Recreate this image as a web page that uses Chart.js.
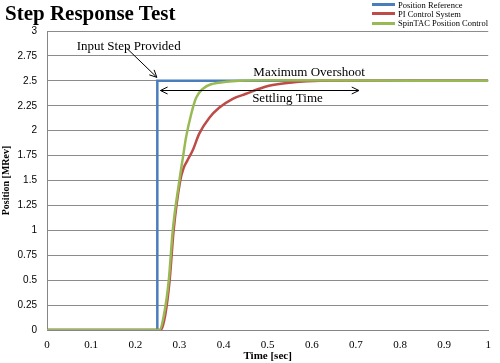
<!DOCTYPE html>
<html>
<head>
<meta charset="utf-8">
<script src="https://cdn.jsdelivr.net/npm/chart.js@4/dist/chart.umd.min.js"></script>
<style>
  html, body { margin:0; padding:0; background:#fff; }
  #wrap { position:relative; width:500px; height:363px; }
  #titulo { position:absolute; left:5px; top:1px; font-family:'Liberation Serif',serif; font-weight:bold; font-size:21px; color:#000; }
  #leyenda { position:absolute; left:372px; top:0px; font-family:'Liberation Serif',serif; font-size:8.5px; color:#000; }
  .ley-row { display:flex; align-items:center; height:9.3px; }
  .ley-line { width:23px; height:3px; margin-right:3px; }
</style>
</head>
<body>
<div id="wrap">
  <canvas id="chart" width="500" height="363"></canvas>
  <div id="titulo">Step Response Test</div>
  <div id="leyenda"></div>
</div>
<script>
/* ── DATOS ── */
const SERIES   = ['Position Reference', 'PI Control System', 'SpinTAC Position Control'];
const COLORES  = ['#4a7ebb', '#be4b48', '#98b954'];

const REF_T    = [0, 0.25, 0.25, 1];
const REF_POS  = [0, 0, 2.5, 2.5];

const PI_T     = [0, 0.258, 0.268, 0.278, 0.287, 0.302, 0.31, 0.318, 0.33, 0.345, 0.368, 0.39, 0.421, 0.451, 0.481, 0.503, 0.55, 0.62, 1];
const PI_POS   = [0, 0, 0.15, 0.5, 1.0, 1.5, 1.63, 1.7, 1.8, 1.97, 2.13, 2.23, 2.32, 2.37, 2.42, 2.45, 2.48, 2.5, 2.5];

const SP_T     = [0, 0.255, 0.265, 0.276, 0.285, 0.3, 0.308, 0.315, 0.327, 0.338, 0.353, 0.375, 0.406, 0.436, 0.5, 1];
const SP_POS   = [0, 0, 0.15, 0.5, 1.0, 1.5, 1.73, 1.93, 2.17, 2.33, 2.42, 2.47, 2.49, 2.5, 2.505, 2.5];

const X_TICKS  = [0, 0.1, 0.2, 0.3, 0.4, 0.5, 0.6, 0.7, 0.8, 0.9, 1];
const Y_TICKS  = [0, 0.25, 0.5, 0.75, 1, 1.25, 1.5, 1.75, 2, 2.25, 2.5, 2.75, 3];

const toPts = (xs, ys) => xs.map((x, i) => ({ x, y: ys[i] }));

/* ── ANOTACIONES (en coordenadas de datos) ── */
const ANOT = {
  input:    { text:'Input Step Provided', x:0.185, y:2.84 },
  flecha:   { x1:0.18, y1:2.83, x2:0.249, y2:2.535 },
  overshoot:{ text:'Maximum Overshoot', x:0.594, y:2.58 },
  settling: { text:'Settling Time', x:0.545, y:2.32, x1:0.257, x2:0.707, yArrow:2.405 },
};

function punta(ctx, x1, y1, x2, y2, len) {
  const a = Math.atan2(y2 - y1, x2 - x1);
  ctx.beginPath();
  ctx.moveTo(x2 - len * Math.cos(a - 0.45), y2 - len * Math.sin(a - 0.45));
  ctx.lineTo(x2, y2);
  ctx.lineTo(x2 - len * Math.cos(a + 0.45), y2 - len * Math.sin(a + 0.45));
  ctx.stroke();
}

const anotPlugin = {
  id: 'anotaciones',
  afterDatasetsDraw(chart) {
    const { ctx, scales: { x, y } } = chart;
    ctx.save();
    ctx.fillStyle = '#000';
    ctx.strokeStyle = '#000';
    ctx.lineWidth = 1;
    ctx.font = '13px "Liberation Serif", serif';
    ctx.textAlign = 'center';
    ctx.textBaseline = 'middle';

    ctx.fillText(ANOT.input.text, x.getPixelForValue(ANOT.input.x), y.getPixelForValue(ANOT.input.y));
    ctx.fillText(ANOT.overshoot.text, x.getPixelForValue(ANOT.overshoot.x), y.getPixelForValue(ANOT.overshoot.y));
    ctx.fillText(ANOT.settling.text, x.getPixelForValue(ANOT.settling.x), y.getPixelForValue(ANOT.settling.y));

    // flecha del escalón
    const f = ANOT.flecha;
    const ax1 = x.getPixelForValue(f.x1), ay1 = y.getPixelForValue(f.y1);
    const ax2 = x.getPixelForValue(f.x2), ay2 = y.getPixelForValue(f.y2);
    ctx.beginPath(); ctx.moveTo(ax1, ay1); ctx.lineTo(ax2, ay2); ctx.stroke();
    punta(ctx, ax1, ay1, ax2, ay2, 8);

    // doble flecha de establecimiento
    const s = ANOT.settling;
    const sx1 = x.getPixelForValue(s.x1), sx2 = x.getPixelForValue(s.x2);
    const sy  = Math.round(y.getPixelForValue(s.yArrow)) + 0.5;
    ctx.beginPath(); ctx.moveTo(sx1, sy); ctx.lineTo(sx2, sy); ctx.stroke();
    punta(ctx, sx2, sy, sx1, sy, 8);
    punta(ctx, sx1, sy, sx2, sy, 8);
    ctx.restore();
  }
};

/* ── LEYENDA ── */
document.getElementById('leyenda').innerHTML = SERIES.map((l, i) =>
  `<div class="ley-row"><span class="ley-line" style="background:${COLORES[i]}"></span><span>${l}</span></div>`
).join('');

/* ── GRÁFICO ── */
const serieBase = { fill:false, pointRadius:0, borderWidth:2.5, cubicInterpolationMode:'monotone' };

new Chart(document.getElementById('chart').getContext('2d'), {
  type: 'line',
  data: {
    datasets: [
      { ...serieBase, label: SERIES[0], data: toPts(REF_T, REF_POS), borderColor: COLORES[0], cubicInterpolationMode:'default', tension:0, order:3 },
      { ...serieBase, label: SERIES[1], data: toPts(PI_T, PI_POS),   borderColor: COLORES[1], order:2 },
      { ...serieBase, label: SERIES[2], data: toPts(SP_T, SP_POS),   borderColor: COLORES[2], order:1 },
    ]
  },
  options: {
    responsive: false,
    animation: false,
    layout: { padding: { top: 31, right: 10, left: 0, bottom: 0 } },
    plugins: { legend: { display:false }, title: { display:false }, tooltip: { enabled:false } },
    scales: {
      x: {
        type: 'linear', min: 0, max: 1,
        afterBuildTicks: s => { s.ticks = X_TICKS.map(v => ({ value: v })); },
        afterFit: s => { s.height = 33; },
        grid: { display:false, drawTicks:false },
        border: { color:'#868686', width:1 },
        ticks: { padding: 9, color:'#000', font: { family:'Liberation Serif', size:11 }, callback: v => String(v) },
        title: { display:true, text:'Time [sec]', color:'#000', padding:{ top:0, bottom:0 }, font: { family:'Liberation Serif', size:11, weight:'bold' } }
      },
      y: {
        min: 0, max: 3,
        afterBuildTicks: s => { s.ticks = Y_TICKS.map(v => ({ value: v })); },
        afterFit: s => { s.width = 47; },
        grid: { color:'#8c8c8c', lineWidth:1, drawTicks:false },
        border: { color:'#868686', width:1 },
        ticks: { padding: 10, color:'#000', font: { family:'Liberation Sans', size:10 }, callback: v => String(v) },
        title: { display:true, text:'Position [MRev]', color:'#000', padding:{ top:0, bottom:2 }, font: { family:'Liberation Serif', size:10, weight:'bold' } }
      }
    }
  },
  plugins: [anotPlugin]
});
</script>
</body>
</html>
